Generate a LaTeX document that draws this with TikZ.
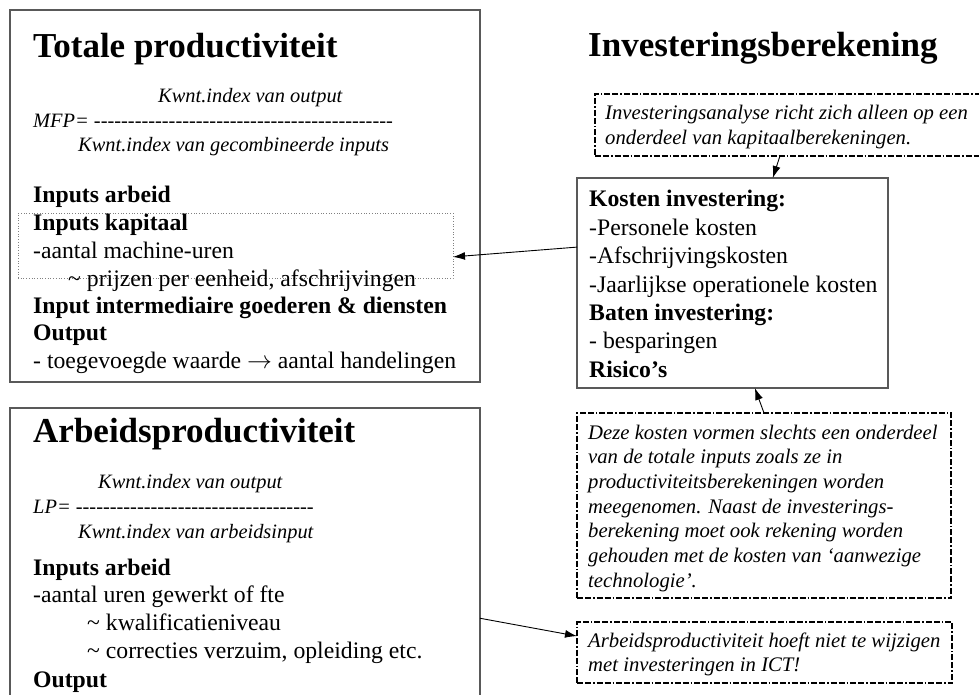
\documentclass[tikz,border=0pt]{standalone}
\usepackage{fontspec}
\setmainfont{Liberation Serif}[Ligatures=TeXOff]
\usetikzlibrary{arrows.meta}
\definecolor{randgrijs}{gray}{0.35}
\newcommand{\streepjes}[1]{\foreach \s in {1,...,#1}{-}}

\begin{document}
\begin{tikzpicture}[x=1pt, y=-1pt,
	>={Latex[length=12pt, width=8pt]},
	pijl/.style={->, draw=black, line width=0.9pt},
	doos/.style={draw=randgrijs, line width=1.2pt, inner sep=0pt, outer sep=0pt},
	streepdoos/.style={draw=black, line width=1.4pt, inner sep=0pt, outer sep=0pt,
		dash pattern=on 6pt off 2pt on 6pt off 2pt on 1.5pt off 2pt},
	stippeldoos/.style={draw=gray, line width=0.7pt, dotted, inner sep=0pt, outer sep=0pt},
	tekst/.style={anchor=base west, inner sep=0pt},
	titel/.style={tekst, font=\fontsize{35}{40}\selectfont\bfseries},
	kop/.style={tekst, font=\fontsize{23.7}{28}\selectfont\bfseries},
	regel/.style={tekst, font=\fontsize{23.7}{28}\selectfont},
	formule/.style={tekst, font=\fontsize{20.4}{24}\selectfont\itshape},
	notitie/.style={tekst, font=\fontsize{20.7}{25}\selectfont\itshape}]

	\clip (0,0) rectangle (979,695);

	% --- boxes ---
	\node[doos, minimum width=470, minimum height=372] (totaal) at (245,196) {};
	\node[doos, minimum width=470, minimum height=312] (arbeid) at (245,564) {};
	\node[stippeldoos, minimum width=435, minimum height=65] (kapitaal) at (235.5,245.5) {};
	\node[doos, minimum width=311, minimum height=210] (kosten) at (732.5,283) {};
	\node[streepdoos, minimum width=390, minimum height=62] (analyse) at (790,125) {};
	\node[streepdoos, minimum width=374, minimum height=185] (deel) at (764,505.5) {};
	\node[streepdoos, minimum width=375, minimum height=61] (ict) at (764.5,652.5) {};

	% --- totale productiviteit ---
	\node[titel] (t0) at (33,58) {Totale productiviteit};
	\node[formule] (t1) at (158,103) {Kwnt.index van output};
	\node[formule] (t2) at (33,128) {MFP= \streepjes{44}};
	\node[formule] (t3) at (78,152) {Kwnt.index van gecombineerde inputs};
	\node[kop] (t4) at (33,203) {Inputs arbeid};
	\node[kop] (t5) at (33,230) {Inputs kapitaal};
	\node[regel] (t6) at (33,258) {-aantal machine-uren};
	\node[regel] (t7) at (68,286) {\textasciitilde{} prijzen per eenheid, afschrijvingen};
	\node[kop] (t8) at (33,313) {Input intermediaire goederen \& diensten};
	\node[kop] (t9) at (33,340) {Output};
	\node[regel] (t10) at (33,368) {- toegevoegde waarde $\rightarrow$ aantal handelingen};

	% --- arbeidsproductiviteit ---
	\node[titel] (a0) at (33,442) {Arbeidsproductiviteit};
	\node[formule] (a1) at (98,488) {Kwnt.index van output};
	\node[formule] (a2) at (33,513) {LP= \streepjes{35}};
	\node[formule] (a3) at (78,538) {Kwnt.index van arbeidsinput};
	\node[kop] (a4) at (33,575) {Inputs arbeid};
	\node[regel] (a5) at (33,602) {-aantal uren gewerkt of fte};
	\node[regel] (a6) at (87,630) {\textasciitilde{} kwalificatieniveau};
	\node[regel] (a7) at (87,658) {\textasciitilde{} correcties verzuim, opleiding etc.};
	\node[kop] (a8) at (33,687) {Output};

	% --- investeringsberekening ---
	\node[titel] (i0) at (588,57) {Investeringsberekening};
	\node[notitie] (n1) at (605,120) {Investeringsanalyse richt zich alleen op een};
	\node[notitie] (n2) at (605,145) {onderdeel van kapitaalberekeningen.};

	\node[kop] (k1) at (589,207) {Kosten investering:};
	\node[regel] (k2) at (589,235) {-Personele kosten};
	\node[regel] (k3) at (589,263) {-Afschrijvingskosten};
	\node[regel] (k4) at (589,292) {-Jaarlijkse operationele kosten};
	\node[kop] (k5) at (589,320) {Baten investering:};
	\node[regel] (k6) at (589,348) {- besparingen};
	\node[kop] (k7) at (589,377) {Risico’s};

	\node[notitie] (d1) at (588,439) {Deze kosten vormen slechts een onderdeel};
	\node[notitie] (d2) at (588,463.7) {van de totale inputs zoals ze in};
	\node[notitie] (d3) at (588,488.3) {productiviteitsberekeningen worden};
	\node[notitie] (d4) at (588,513) {meegenomen. Naast de investerings-};
	\node[notitie] (d5) at (588,537.7) {berekening moet ook rekening worden};
	\node[notitie] (d6) at (588,562.3) {gehouden met de kosten van ‘aanwezige};
	\node[notitie] (d7) at (588,587) {technologie’.};

	\node[notitie] (c1) at (588,647) {Arbeidsproductiviteit hoeft niet te wijzigen};
	\node[notitie] (c2) at (588,671) {met investeringen in ICT!};

	% --- arrows ---
	\draw[pijl] (analyse.-108) -- (kosten.69);
	\draw[pijl] (kosten.167) -- (kapitaal.-3);
	\draw[pijl] (deel.north) -- (kosten.-78);
	\draw[pijl] (arbeid.-13.6) -- (ict.175.3);

\end{tikzpicture}
\end{document}
